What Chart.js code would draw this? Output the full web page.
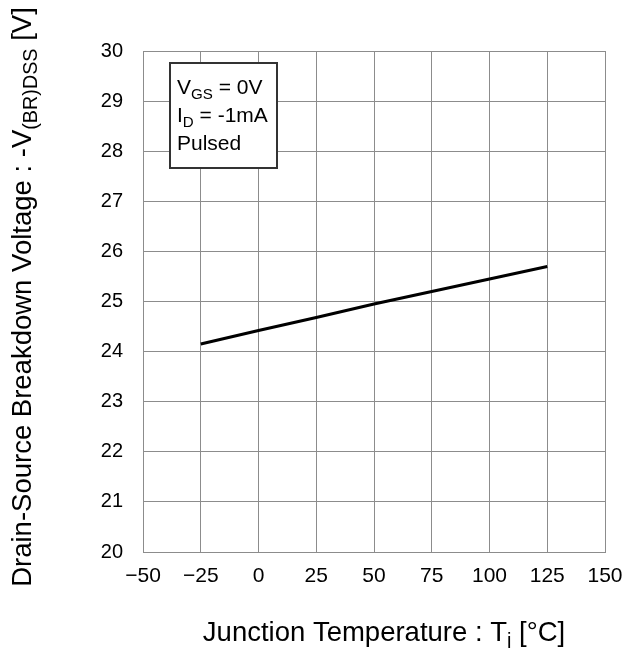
<!DOCTYPE html>
<html>
<head>
<meta charset="utf-8">
<script src="https://cdn.jsdelivr.net/npm/chart.js@4"></script>
<style>
  body { margin: 0; background: #fff; }
  #wrap { width: 629px; height: 648px; }
</style>
</head>
<body>
<div id="wrap"><canvas id="myChart" width="629" height="648"></canvas></div>
<script>
// data
const temps = [-25, 0, 25, 50, 75, 100, 125];
const bvdss = [24.15, 24.42, 24.68, 24.95, 25.2, 25.45, 25.7];
const xTicks = [-50, -25, 0, 25, 50, 75, 100, 125, 150];
const yTicks = [20, 21, 22, 23, 24, 25, 26, 27, 28, 29, 30];
const noteLines = [
  [{t: 'V'}, {t: 'GS', sub: true}, {t: ' = 0V'}],
  [{t: 'I'}, {t: 'D', sub: true}, {t: ' = -1mA'}],
  [{t: 'Pulsed'}]
];

const FONT = '"Liberation Sans", Arial, sans-serif';
const gridColor = '#8c8c8c';

// draws text made of normal and subscript pieces, returns width
function richWidth(ctx, parts, size) {
  var w = 0;
  parts.forEach(function(p) {
    ctx.font = (p.sub ? size * 0.72 : size) + 'px ' + FONT;
    w += ctx.measureText(p.t).width;
  });
  return w;
}
function drawRich(ctx, parts, x, y, size) {
  parts.forEach(function(p) {
    var s = p.sub ? size * 0.72 : size;
    ctx.font = s + 'px ' + FONT;
    ctx.fillText(p.t, x, p.sub ? y + size * 0.22 : y);
    x += ctx.measureText(p.t).width;
  });
}

const labelsPlugin = {
  id: 'labels',
  afterDraw: function(chart) {
    var ctx = chart.ctx, a = chart.chartArea;
    ctx.save();
    ctx.fillStyle = '#000';
    ctx.textBaseline = 'alphabetic';
    ctx.textAlign = 'left';

    // x axis title
    var xt = [{t: 'Junction Temperature : T'}, {t: 'j', sub: true}, {t: ' [\u00B0C]'}];
    var w = richWidth(ctx, xt, 27.5);
    drawRich(ctx, xt, 384 - w / 2, 641, 27.5);

    // y axis title
    var yt = [{t: 'Drain-Source Breakdown Voltage : -V'}, {t: '(BR)DSS', sub: true}, {t: ' [V]'}];
    ctx.save();
    ctx.translate(31, 297);
    ctx.rotate(-Math.PI / 2);
    w = richWidth(ctx, yt, 27.5);
    drawRich(ctx, yt, -w / 2, 0, 27.5);
    ctx.restore();

    // condition box
    var bx = a.left + 27, by = a.top + 12;
    ctx.fillStyle = '#fff';
    ctx.fillRect(bx, by, 107, 105);
    ctx.strokeStyle = '#333';
    ctx.lineWidth = 2;
    ctx.strokeRect(bx, by, 107, 105);
    ctx.fillStyle = '#000';
    noteLines.forEach(function(line, i) {
      drawRich(ctx, line, bx + 7, by + 31 + i * 28, 21);
    });
    ctx.restore();
  }
};

new Chart(document.getElementById('myChart'), {
  type: 'scatter',
  data: {
    datasets: [{
      data: temps.map(function(t, i) { return {x: t, y: bvdss[i]}; }),
      showLine: true,
      borderColor: '#000',
      borderWidth: 3,
      pointRadius: 0,
      fill: false
    }]
  },
  options: {
    responsive: false,
    animation: false,
    events: [],
    layout: { padding: { top: 51, right: 24, left: 0, bottom: 0 } },
    plugins: { legend: { display: false }, tooltip: { enabled: false } },
    scales: {
      x: {
        type: 'linear',
        min: -50, max: 150,
        afterBuildTicks: function(s) { s.ticks = xTicks.map(function(v) { return {value: v}; }); },
        afterFit: function(s) { s.height = 96; s.paddingLeft = 0; s.paddingRight = 0; },
        grid: { color: gridColor, lineWidth: 1, drawTicks: false },
        border: { color: gridColor, width: 1 },
        ticks: {
          padding: 12,
          color: '#000',
          font: { family: FONT, size: 21 },
          callback: function(v) { return v < 0 ? '\u2212' + Math.abs(v) : String(v); }
        }
      },
      y: {
        type: 'linear',
        min: 20, max: 30,
        afterBuildTicks: function(s) { s.ticks = yTicks.map(function(v) { return {value: v}; }); },
        afterFit: function(s) { s.width = 143; s.paddingTop = 0; s.paddingBottom = 0; },
        grid: { color: gridColor, lineWidth: 1, drawTicks: false },
        border: { color: gridColor, width: 1 },
        ticks: {
          padding: 20,
          color: '#000',
          font: { family: FONT, size: 20 }
        }
      }
    }
  },
  plugins: [labelsPlugin]
});
</script>
</body>
</html>
